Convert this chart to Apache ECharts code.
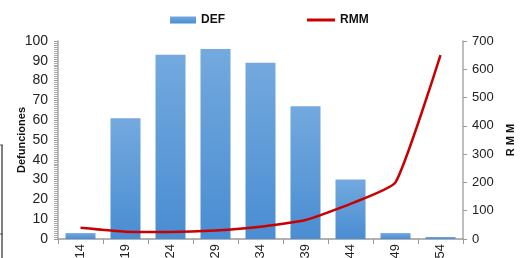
<!DOCTYPE html>
<html>
<head>
<meta charset="utf-8">
<script src="https://cdn.jsdelivr.net/npm/echarts@6/dist/echarts.min.js"></script>
<style>
  html, body { margin: 0; padding: 0; background: #fff; }
  #chart { width: 532px; height: 258px; }
</style>
</head>
<body>
<div id="chart"></div>
<script>
// grupos de edad y valores
var grupos = ['10-14', '15-19', '20-24', '25-29', '30-34', '35-39', '40-44', '45-49', '50-54'];
var defunciones = [3, 61, 93, 96, 89, 67, 30, 3, 1];
var rmm = [40, 26, 25, 30, 43, 67, 124, 200, 650];
var ticksIzq = [0, 10, 20, 30, 40, 50, 60, 70, 80, 90, 100];
var ticksDer = [0, 100, 200, 300, 400, 500, 600, 700];

var chart = echarts.init(document.getElementById('chart'));
var fuente = 'Liberation Sans, Arial, sans-serif';
var estiloLeyenda = { fontSize: 12, fontWeight: 'bold', color: '#111', fontFamily: fuente };

var option = {
    animation: false,
    textStyle: { fontFamily: fuente },
    legend: [{
        left: 165,
        top: 9,
        itemWidth: 26,
        itemHeight: 7,
        textStyle: estiloLeyenda,
        data: [{ name: 'DEF', icon: 'rect' }]
    }, {
        left: 302,
        top: 9,
        itemWidth: 28,
        itemHeight: 3,
        textStyle: estiloLeyenda,
        data: [{ name: 'RMM', icon: 'rect' }]
    }],
    grid: { left: 58, right: 69, top: 41, bottom: 19, containLabel: false, outerBoundsMode: 'none' },
    xAxis: {
        type: 'category',
        data: grupos,
        axisLine: { lineStyle: { color: '#999', width: 1.5 } },
        axisTick: { show: true, length: 5, lineStyle: { color: '#999' } },
        axisLabel: { rotate: 90, fontSize: 13, color: '#222', margin: 5 }
    },
    yAxis: [{
        type: 'value',
        min: ticksIzq[0],
        max: ticksIzq[ticksIzq.length - 1],
        interval: 10,
        name: 'Defunciones',
        nameLocation: 'middle',
        nameGap: 31,
        nameMoveOverlap: false,
        nameRotate: 90,
        nameTextStyle: { fontSize: 11, fontWeight: 'bold', color: '#111' },
        axisLine: { show: true, lineStyle: { color: '#aaa', width: 1.5 } },
        axisTick: { show: true, length: 4, lineStyle: { color: '#999' } },
        minorTick: { show: true, splitNumber: 10, length: 4, lineStyle: { color: '#aaa' } },
        splitLine: { show: false },
        axisLabel: { fontSize: 14, color: '#222', margin: 10 }
    }, {
        type: 'value',
        min: ticksDer[0],
        max: ticksDer[ticksDer.length - 1],
        interval: 100,
        name: 'R M M',
        nameLocation: 'middle',
        nameGap: 42,
        nameMoveOverlap: false,
        nameRotate: 90,
        nameTextStyle: { fontSize: 11, fontWeight: 'bold', color: '#111' },
        axisLine: { show: true, lineStyle: { color: '#aaa', width: 1.5 } },
        axisTick: { show: true, length: 4, lineStyle: { color: '#999' } },
        splitLine: { show: false },
        axisLabel: { fontSize: 13, color: '#222', margin: 9 }
    }],
    series: [{
        name: 'DEF',
        type: 'bar',
        data: defunciones,
        barWidth: 30,
        itemStyle: {
            color: new echarts.graphic.LinearGradient(0, 0, 0, 1, [
                { offset: 0, color: '#73a9de' },
                { offset: 1, color: '#4a8dd2' }
            ])
        }
    }, {
        name: 'RMM',
        type: 'line',
        yAxisIndex: 1,
        data: rmm,
        smooth: 0.15,
        symbol: 'none',
        lineStyle: { color: '#c80000', width: 2.5 },
        itemStyle: { color: '#c80000' }
    }],
    graphic: [
        { type: 'line', shape: { x1: 2, y1: 145, x2: 2, y2: 258 }, style: { stroke: '#555', lineWidth: 1.5 } },
        { type: 'line', shape: { x1: 0, y1: 145, x2: 3, y2: 145 }, style: { stroke: '#555', lineWidth: 1 } },
        { type: 'line', shape: { x1: 0, y1: 234, x2: 3, y2: 234 }, style: { stroke: '#555', lineWidth: 1 } }
    ]
};

chart.setOption(option);
</script>
</body>
</html>
